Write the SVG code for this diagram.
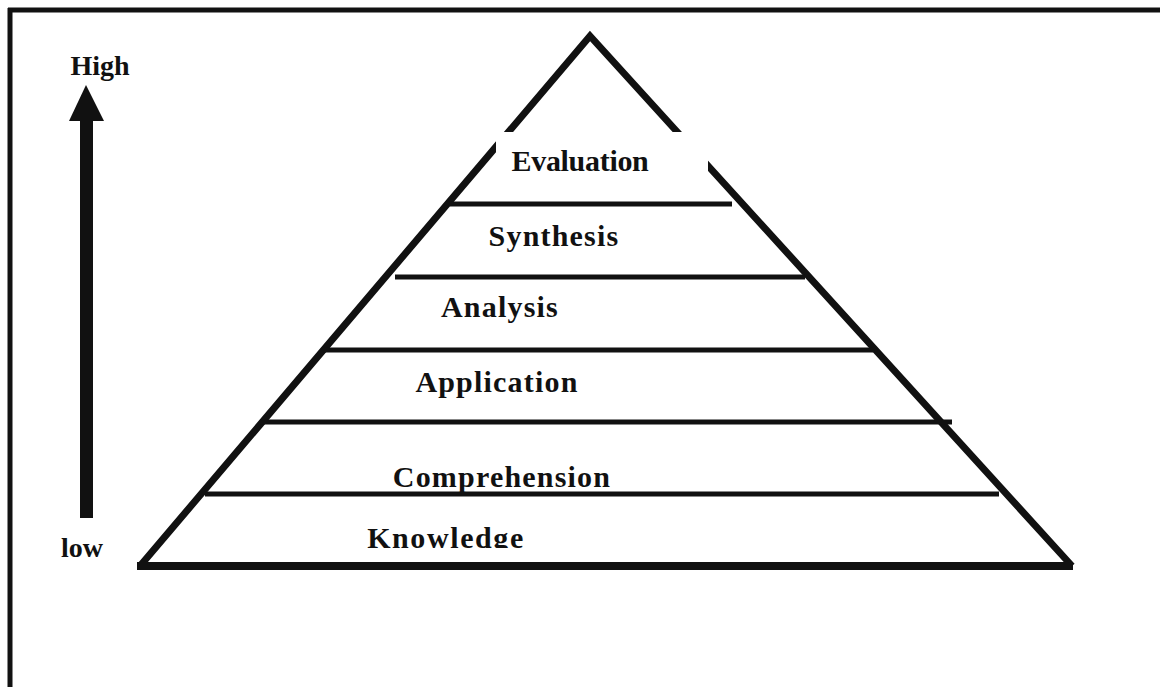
<svg xmlns="http://www.w3.org/2000/svg" width="1160" height="687" viewBox="0 0 1160 687">
  <style>
    .lbl { font-family: "Liberation Serif", "Times New Roman", serif; font-weight: bold; font-size: 30px; fill: #111; text-anchor: middle; }
    .wide { letter-spacing: 1.2px; }
    .edge { stroke: #111; stroke-width: 7; stroke-linecap: butt; fill: none; }
    .tier { stroke: #111; stroke-width: 5; fill: none; }
  </style>
  <defs>
    <clipPath id="baseClip">
      <rect x="0" y="0" width="1160" height="548"/>
    </clipPath>
  </defs>
  <rect x="0" y="0" width="1160" height="687" fill="#fff"/>

  <!-- outer frame (top and left edges) -->
  <g id="frame">
    <line x1="8" y1="10" x2="1160" y2="10" stroke="#111" stroke-width="5"/>
    <line x1="10" y1="8" x2="10" y2="687" stroke="#111" stroke-width="5"/>
  </g>

  <!-- level axis -->
  <g id="axis">
    <rect x="80" y="118" width="13" height="400" fill="#111"/>
    <polygon points="86,85 69,121 104,121" fill="#111"/>
    <text class="lbl" x="100" y="75" style="font-size:28px">High</text>
    <text class="lbl" x="82" y="557" style="font-size:28px">low</text>
  </g>

  <!-- pyramid outline and tier dividers -->
  <g id="connectors">
    <polyline class="edge" points="140,566 590,36 1072,566"/>
    <line x1="137" y1="566" x2="1073" y2="566" stroke="#111" stroke-width="8"/>
    <line class="tier" x1="450" y1="204" x2="732" y2="204"/>
    <line class="tier" x1="395" y1="277" x2="805" y2="277"/>
    <line class="tier" x1="323" y1="350" x2="873" y2="350"/>
    <line class="tier" x1="260" y1="422" x2="952" y2="422"/>
    <line class="tier" x1="205" y1="494" x2="999" y2="494"/>
  </g>

  <!-- tiers -->
  <g id="evaluation">
    <rect x="496" y="132" width="212" height="68" fill="#fff"/>
    <text class="lbl" x="580" y="171" style="letter-spacing:-0.3px">Evaluation</text>
  </g>
  <g id="synthesis">
    <text class="lbl wide" x="554" y="246">Synthesis</text>
  </g>
  <g id="analysis">
    <text class="lbl wide" x="500" y="317">Analysis</text>
  </g>
  <g id="application">
    <text class="lbl wide" x="497" y="392">Application</text>
  </g>
  <g id="comprehension">
    <text class="lbl wide" x="502" y="487">Comprehension</text>
  </g>
  <g id="knowledge">
    <text class="lbl wide" x="446" y="548" style="letter-spacing:1.6px" clip-path="url(#baseClip)">Knowledge</text>
  </g>
</svg>
